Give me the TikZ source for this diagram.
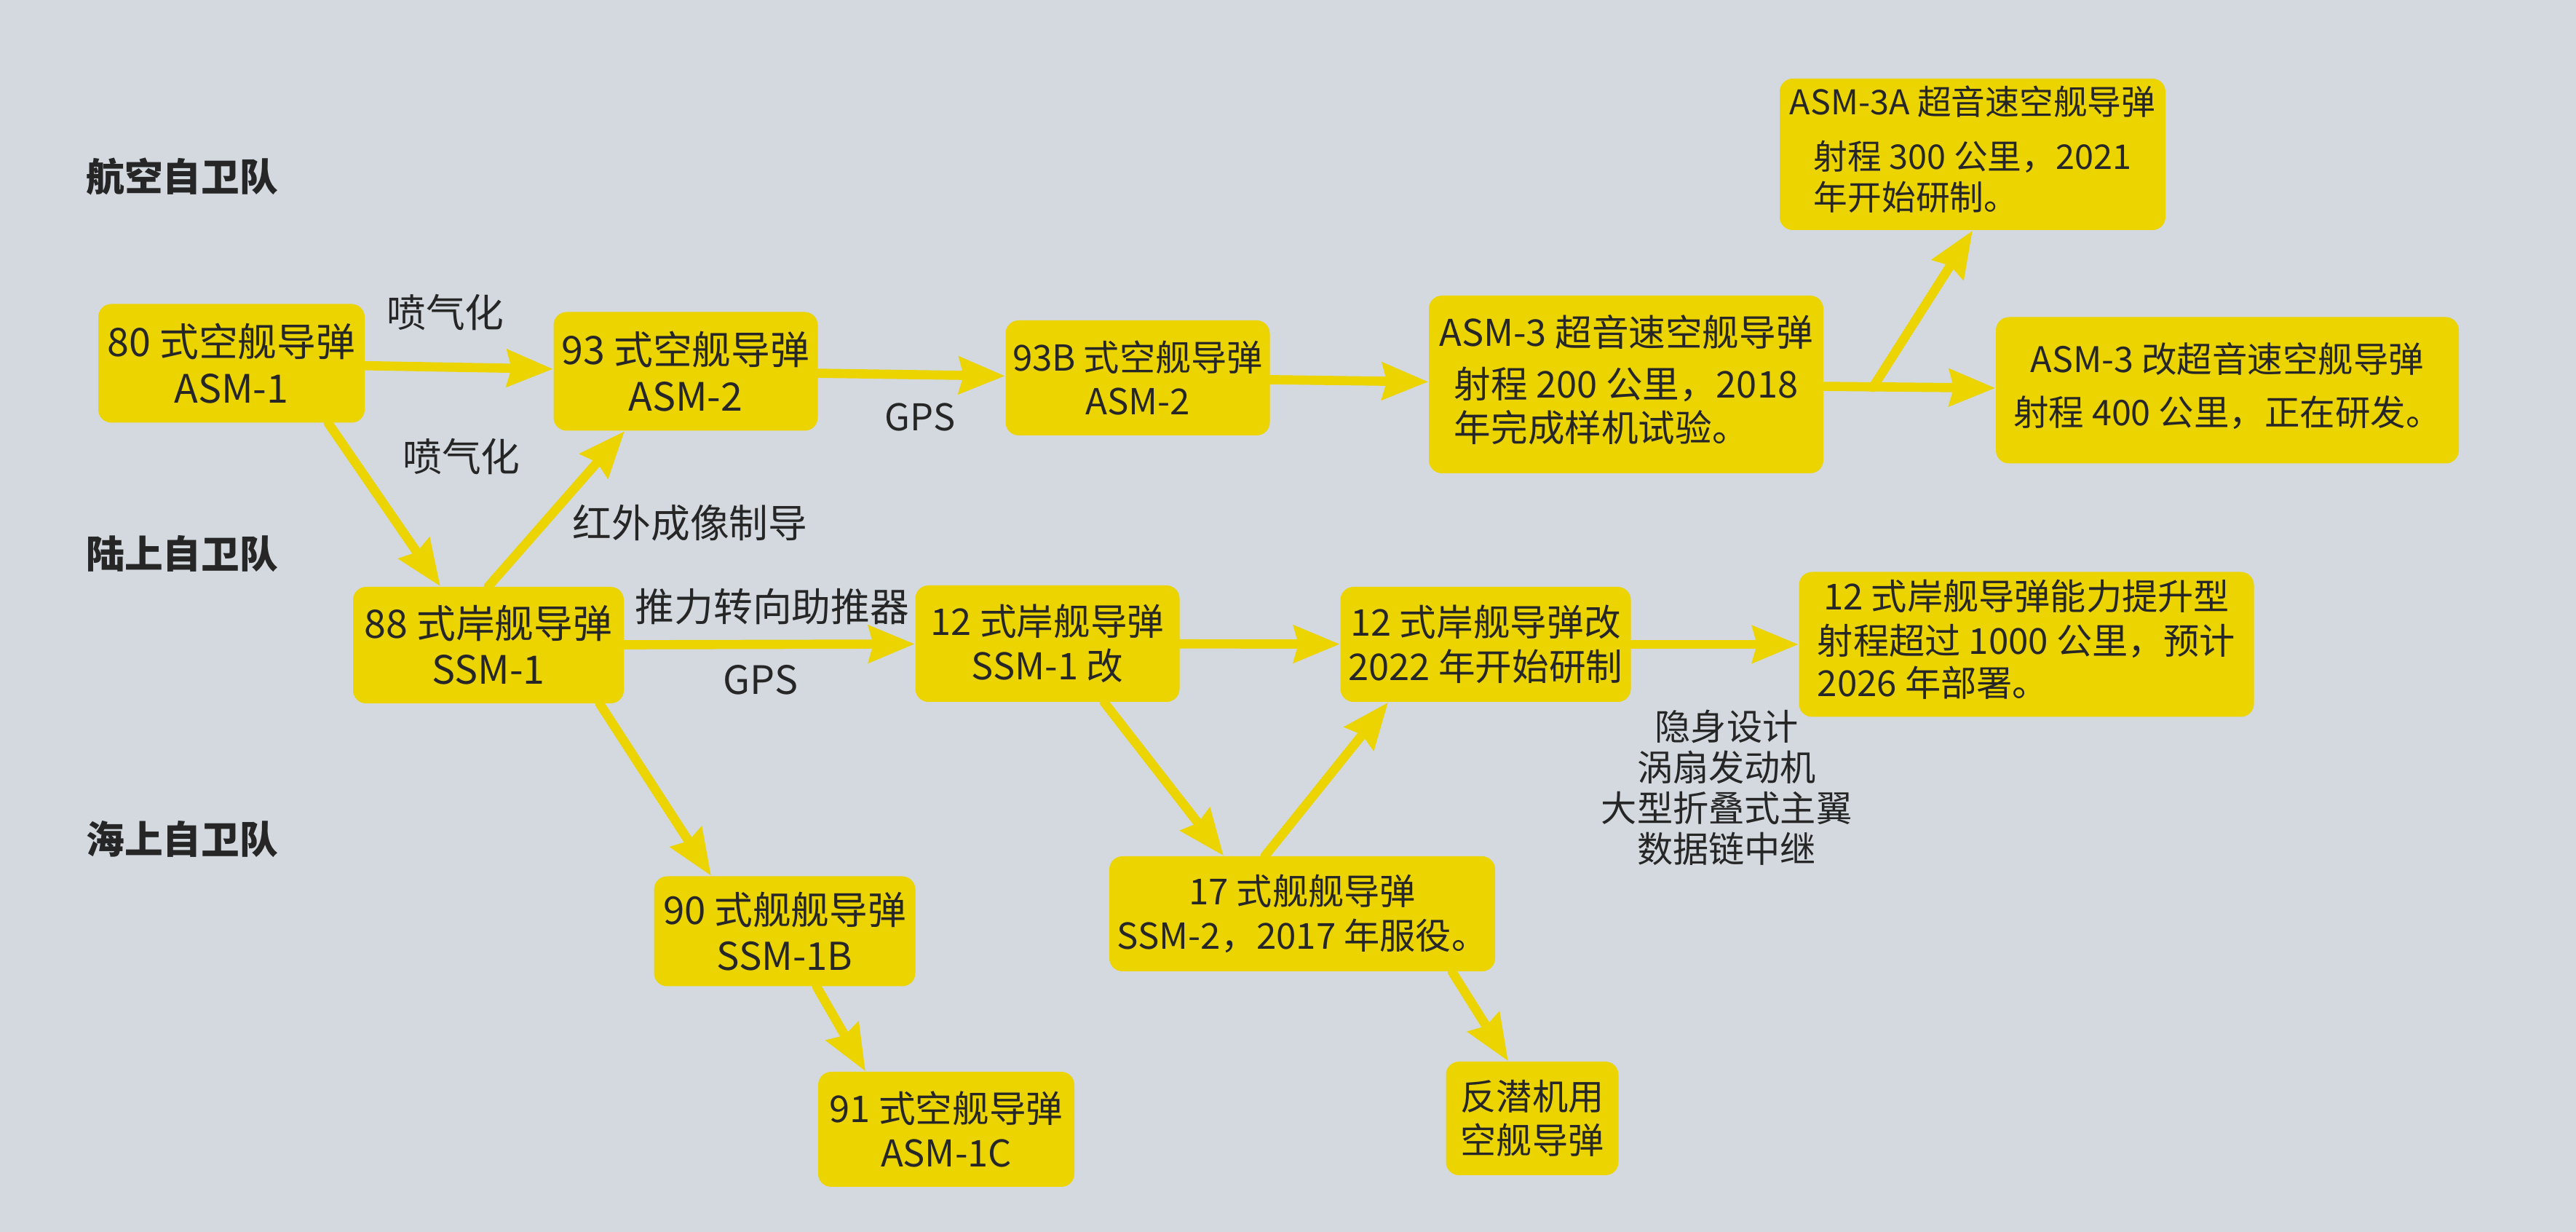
\documentclass[tikz,border=0pt]{standalone}
\usepackage{fontspec}
\setmainfont{Noto Sans CJK SC}
\usetikzlibrary{arrows.meta}
\definecolor{paper}{HTML}{D3D9DF}
\definecolor{mark}{HTML}{EBD400}
\definecolor{ink}{HTML}{262626}
\newcommand{\boxbody}[1]{{\renewcommand{\arraystretch}{0.92}\begin{tabular}[t]{@{}l@{}}#1\end{tabular}}}
\begin{document}
\begin{tikzpicture}[font=\fontsize{14.4}{17.3}\selectfont, line join=round, line cap=round,
  box/.style={fill=mark, rounded corners=0.18cm, text=ink, align=center, inner sep=0pt},
  big/.style={font=\fontsize{15.3}{18}\selectfont},
  small/.style={font=\fontsize{13.3}{17.3}\selectfont},
  lbl/.style={text=ink, big},
  lane/.style={text=ink, anchor=west, font=\fontsize{15}{18}\selectfont\bfseries},
  arr/.style={draw=mark, line width=3.6pt, -{Stealth[length=0.63cm,width=0.5cm,inset=0.06cm]}}]
\def\W{35.39} \def\H{16.92}
\fill[paper] (0,0) rectangle (\W,\H);
\useasboundingbox (0,0) rectangle (\W,\H);
% lanes
\node[lane] (air) at (1.06,14.50) {航空自卫队};
\node[lane] (land) at (1.06,9.31) {陆上自卫队};
\node[lane] (sea) at (1.06,5.39) {海上自卫队};
% missiles
\node[box, big, minimum width=3.66cm, minimum height=1.63cm] (b80) at (3.18,11.93) {80 式空舰导弹\\ASM-1};
\node[box, big, minimum width=3.63cm, minimum height=1.63cm] (b93) at (9.42,11.82) {93 式空舰导弹\\ASM-2};
\node[box, font=\fontsize{14}{17.3}\selectfont, minimum width=3.63cm, minimum height=1.58cm] (b93B) at (15.63,11.73) {93B 式空舰导弹\\ASM-2};
\node[box, minimum width=5.42cm, minimum height=2.44cm] (asm3) at (22.34,11.64)
  {ASM-3 超音速空舰导弹\\[3pt]\boxbody{射程 200 公里，2018\\年完成样机试验。}};
\node[box, small, minimum width=5.30cm, minimum height=2.08cm] (asm3A) at (27.10,14.80)
  {ASM-3A 超音速空舰导弹\\[4pt]\boxbody{射程 300 公里，2021\\年开始研制。}};
\node[box, font=\fontsize{13.8}{17.3}\selectfont, minimum width=6.36cm, minimum height=2.01cm] (asm3K) at (30.60,11.56)
  {ASM-3 改超音速空舰导弹\\[3.4pt]\boxbody{射程 400 公里，正在研发。}};
\node[box, big, minimum width=3.72cm, minimum height=1.60cm] (b88) at (6.71,8.06) {88 式岸舰导弹\\SSM-1};
\node[box, minimum width=3.63cm, minimum height=1.60cm] (b12) at (14.39,8.08) {12 式岸舰导弹\\SSM-1 改};
\node[box, minimum width=3.99cm, minimum height=1.58cm] (b12K) at (20.41,8.07) {12 式岸舰导弹改\\2022 年开始研制};
\node[box, font=\fontsize{14}{17.3}\selectfont, minimum width=6.25cm, minimum height=1.99cm] (b12up) at (27.84,8.07)
  {12 式岸舰导弹能力提升型\\[0pt]\boxbody{射程超过 1000 公里，预计\\2026 年部署。}};
\node[box, font=\fontsize{15}{18}\selectfont, minimum width=3.59cm, minimum height=1.51cm] (b90) at (10.78,4.13) {90 式舰舰导弹\\SSM-1B};
\node[box, font=\fontsize{14}{17.3}\selectfont, minimum width=5.30cm, minimum height=1.58cm] (b17) at (17.89,4.37) {17 式舰舰导弹\\SSM-2，2017 年服役。};
\node[box, minimum width=3.52cm, minimum height=1.58cm] (b91) at (13.00,1.41) {91 式空舰导弹\\ASM-1C};
\node[box, font=\fontsize{14}{17.3}\selectfont, minimum width=2.37cm, minimum height=1.56cm] (bfq) at (21.05,1.56) {反潜机用\\空舰导弹};
% labels
\node[lbl] (jq1) at (6.12,12.63) {喷气化};
\node[lbl] (jq2) at (6.34,10.65) {喷气化};
\node[lbl] (hw) at (9.48,9.74) {红外成像制导};
\node[lbl, font=\fontsize{14.4}{17.3}\selectfont] (gps1) at (12.64,11.19) {GPS};
\node[lbl] (tl) at (10.61,8.59) {推力转向助推器};
\node[lbl] (gps2) at (10.45,7.58) {GPS};
\node[lbl, align=center, font=\fontsize{14}{15.9}\selectfont] (feat) at (23.72,6.10) {隐身设计\\涡扇发动机\\大型折叠式主翼\\数据链中继};
% arrows
\draw[arr] (b80) -- (b93);
\draw[arr] (b93) -- (b93B);
\draw[arr] (b93B) -- (asm3);
\draw[arr] (asm3) -- (asm3K);
\coordinate (fork) at (25.73,11.60);
\draw[arr] (fork) -- (asm3A.south);
\draw[arr] ([xshift=1.33cm]b80.south) -- ([xshift=-0.66cm]b88.north);
\draw[arr] (b88.north) -- ([xshift=-0.84cm]b93.south);
\draw[arr] (b88) -- (b12);
\draw[arr] (b12) -- (b12K);
\draw[arr] (b12K) -- (b12up);
\draw[arr] ([xshift=1.53cm]b88.south) -- ([xshift=-1.01cm]b90.north);
\draw[arr] ([xshift=0.44cm]b90.south) -- ([xshift=-1.11cm]b91.north);
\draw[arr] ([xshift=0.78cm]b12.south) -- ([xshift=-1.08cm]b17.north);
\draw[arr] ([xshift=-0.51cm]b17.north) -- ([xshift=-1.34cm]b12K.south);
\draw[arr] ([xshift=2.06cm]b17.south) -- ([xshift=-0.33cm]bfq.north);
\end{tikzpicture}
\end{document}
